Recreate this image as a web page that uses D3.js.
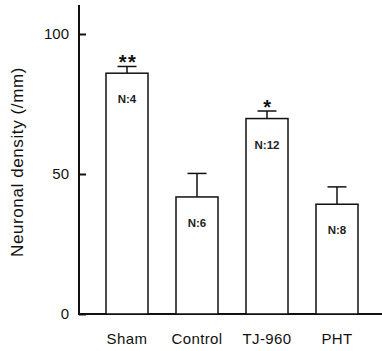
<!DOCTYPE html>
<html>
<head>
<meta charset="utf-8">
<script src="https://cdn.jsdelivr.net/npm/d3@7"></script>
<style>
  body { margin: 0; background: #fff; }
  text { font-family: "Liberation Sans", Arial, sans-serif; }
</style>
</head>
<body>
<script>
var groups = ["Sham", "Control", "TJ-960", "PHT"];
var means = [86, 41.8, 69.8, 39.2];
var errors = [2.4, 8.4, 2.7, 6.2];
var nLabels = ["N:4", "N:6", "N:12", "N:8"];
var marks = ["**", "", "*", ""];
var yTicks = [0, 50, 100];

var w = 382, h = 351;

var svg = d3.select("body").append("svg")
    .attr("width", w)
    .attr("height", h);

var x = d3.scaleBand()
    .domain(groups)
    .range([92, 372])
    .paddingInner(0.4)
    .paddingOuter(0.2);

var y = d3.scaleLinear()
    .domain([0, 100])
    .range([314, 34]);

// axes
svg.append("line")
    .attr("x1", 79).attr("x2", 79)
    .attr("y1", y(110.4)).attr("y2", y(0))
    .attr("stroke", "#111").attr("stroke-width", 2);
svg.append("line")
    .attr("x1", 78).attr("x2", 382)
    .attr("y1", y(0)).attr("y2", y(0))
    .attr("stroke", "#111").attr("stroke-width", 2);

var yAxis = d3.axisRight(y).tickValues(yTicks).tickSize(7).tickFormat(d3.format("d"));
var gy = svg.append("g").attr("transform", "translate(79,0)").call(yAxis);
gy.select(".domain").remove();
gy.selectAll("line").attr("stroke", "#111").attr("stroke-width", 2);
gy.selectAll("text")
    .attr("x", -10)
    .attr("text-anchor", "end")
    .attr("font-size", 15)
    .attr("fill", "#111");

svg.append("text")
    .attr("transform", "translate(23,162) rotate(-90)")
    .attr("text-anchor", "middle")
    .attr("font-size", 17)
    .attr("letter-spacing", 0.6)
    .attr("fill", "#111")
    .text("Neuronal density (/mm)");

// error bars
var eb = svg.selectAll(".eb").data(groups).enter().append("g");
eb.append("line")
    .attr("x1", function (d) { return x(d) + x.bandwidth() / 2; })
    .attr("x2", function (d) { return x(d) + x.bandwidth() / 2; })
    .attr("y1", function (d, i) { return y(means[i]); })
    .attr("y2", function (d, i) { return y(means[i] + errors[i]); })
    .attr("stroke", "#111").attr("stroke-width", 1.5);
eb.append("line")
    .attr("x1", function (d) { return x(d) + x.bandwidth() / 2 - 9.5; })
    .attr("x2", function (d) { return x(d) + x.bandwidth() / 2 + 9.5; })
    .attr("y1", function (d, i) { return y(means[i] + errors[i]); })
    .attr("y2", function (d, i) { return y(means[i] + errors[i]); })
    .attr("stroke", "#111").attr("stroke-width", 1.5);

// bars
svg.selectAll(".bar").data(groups).enter().append("rect")
    .attr("x", function (d) { return x(d); })
    .attr("y", function (d, i) { return y(means[i]); })
    .attr("width", x.bandwidth())
    .attr("height", function (d, i) { return y(0) - y(means[i]); })
    .attr("fill", "#fff")
    .attr("stroke", "#111")
    .attr("stroke-width", 1.5);

svg.selectAll(".nlab").data(groups).enter().append("text")
    .attr("x", function (d) { return x(d) + x.bandwidth() / 2; })
    .attr("y", function (d, i) { return y(means[i]) + 30; })
    .attr("text-anchor", "middle")
    .attr("font-size", 11.5)
    .attr("font-weight", "bold")
    .attr("fill", "#222")
    .text(function (d, i) { return nLabels[i]; });

svg.selectAll(".star").data(groups).enter().append("text")
    .attr("x", function (d) { return x(d) + x.bandwidth() / 2 + 1; })
    .attr("y", function (d, i) { return y(means[i] + errors[i]) + 3; })
    .attr("text-anchor", "middle")
    .attr("font-size", 20)
    .attr("font-weight", "bold")
    .attr("letter-spacing", 1.5)
    .attr("fill", "#111")
    .text(function (d, i) { return marks[i]; });

svg.selectAll(".xlab").data(groups).enter().append("text")
    .attr("x", function (d) { return x(d) + x.bandwidth() / 2; })
    .attr("y", 344)
    .attr("text-anchor", "middle")
    .attr("font-size", 15)
    .attr("letter-spacing", 0.4)
    .attr("fill", "#111")
    .text(function (d) { return d; });
</script>
</body>
</html>
